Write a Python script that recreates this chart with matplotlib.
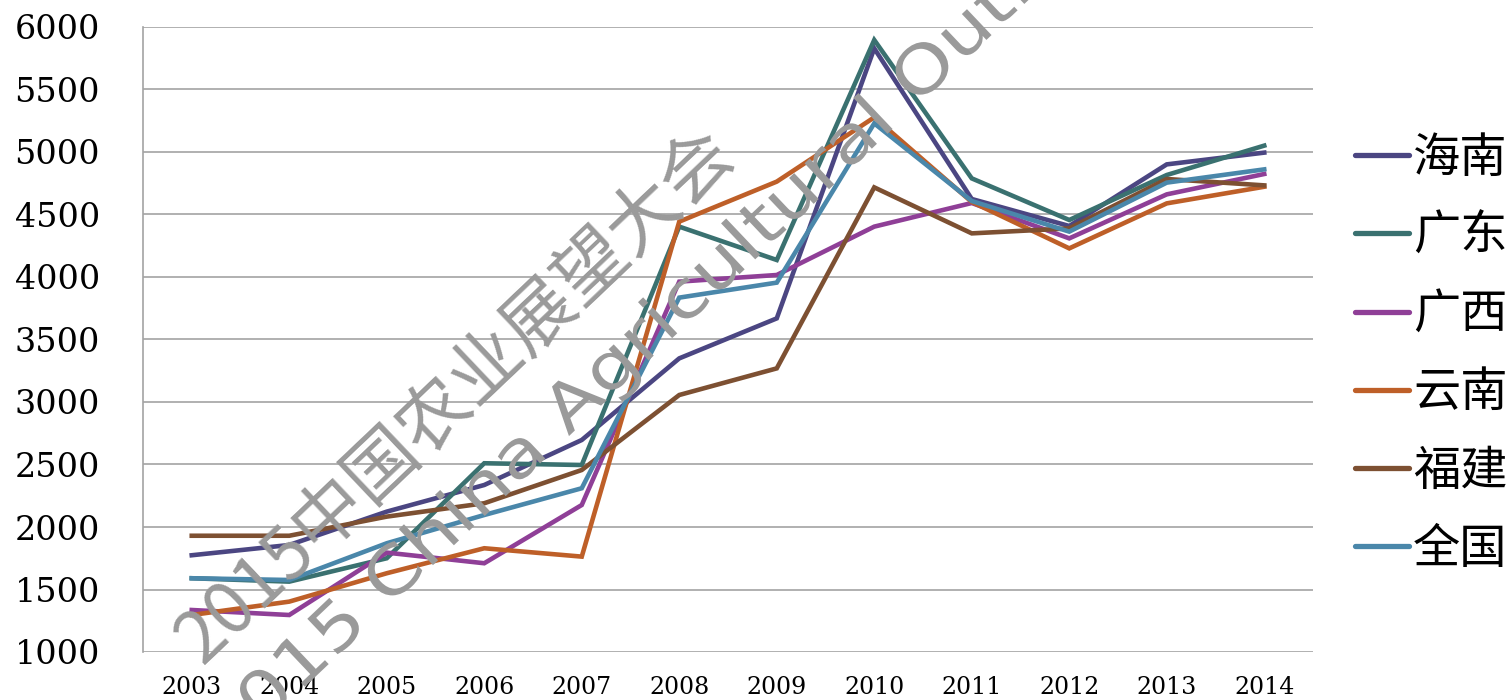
import numpy as np
import matplotlib
matplotlib.use("Agg")
import matplotlib.pyplot as plt
from matplotlib.font_manager import FontProperties
from matplotlib.patheffects import AbstractPathEffect
from matplotlib.transforms import Affine2D

years = ["2003", "2004", "2005", "2006", "2007", "2008", "2009", "2010", "2011", "2012", "2013", "2014"]
series_names = ["海南", "广东", "广西", "云南", "福建", "全国"]
hainan = [1774, 1856, 2123, 2336, 2696, 3349, 3669, 5829, 4624, 4408, 4901, 4995]
guangdong = [1590, 1563, 1750, 2510, 2496, 4403, 4136, 5896, 4789, 4456, 4816, 5051]
guangxi = [1336, 1296, 1795, 1710, 2176, 3963, 4016, 4403, 4592, 4309, 4661, 4824]
yunnan = [1296, 1403, 1630, 1830, 1763, 4443, 4763, 5277, 4600, 4229, 4589, 4722]
fujian = [1930, 1930, 2083, 2190, 2456, 3056, 3269, 4717, 4349, 4389, 4784, 4733]
national = [1590, 1576, 1870, 2096, 2310, 3835, 3955, 5229, 4608, 4363, 4755, 4861]
y_ticks = [1000, 1500, 2000, 2500, 3000, 3500, 4000, 4500, 5000, 5500, 6000]

colors = ["#4b4682", "#3a7170", "#8f3f97", "#be5f28", "#7d5032", "#4a87aa"]
all_series = [hainan, guangdong, guangxi, yunnan, fujian, national]

W, H = 1512, 700
fig = plt.figure(figsize=(W / 100, H / 100), dpi=100)
ax = fig.add_axes([143 / W, 1 - 652 / H, (1313 - 143) / W, (652 - 27) / H])

x = np.arange(len(years))
lines = []
for name, vals, c in zip(series_names, all_series, colors):
    ln, = ax.plot(x, vals, color=c, lw=3.3, solid_joinstyle="miter", zorder=3, label=name)
    lines.append(ln)

ax.set_xlim(-0.5, len(years) - 0.5)
ax.set_ylim(1000, 6000)
ax.set_yticks(y_ticks)
ax.set_yticklabels([str(v) for v in y_ticks], fontfamily="DejaVu Serif", fontsize=24)
ax.set_xticks(x)
ax.set_xticklabels(years, fontfamily="DejaVu Serif", fontsize=17)
ax.tick_params(axis="y", length=0, pad=31)
ax.tick_params(axis="x", length=0, pad=17)
ax.grid(axis="y", color="#a3a3a3", lw=1.2, zorder=1)
ax.set_axisbelow(True)
for s in ["top", "right", "bottom"]:
    ax.spines[s].set_visible(False)
ax.spines["left"].set_color("#a3a3a3")
ax.spines["left"].set_linewidth(1.2)

leg = fig.legend(handles=lines, labels=series_names, loc="center left",
                 bbox_to_anchor=(1355 / W, 1 - 354 / H), frameon=False,
                 prop=FontProperties(family="Noto Sans CJK SC", size=34),
                 handlelength=1.15, handletextpad=0.08, labelspacing=0.63,
                 borderpad=0, borderaxespad=0)
for h in leg.legend_handles:
    h.set_linewidth(3.8)
    h.set_solid_capstyle("round")


# watermark (text stretched along its baseline, like the letter-spaced original)
class Stretch(AbstractPathEffect):
    def __init__(self, sx):
        super().__init__()
        self.sx = sx

    def draw_path(self, renderer, gc, tpath, affine, rgbFace=None):
        renderer.draw_path(gc, tpath, Affine2D().scale(self.sx, 1) + affine, rgbFace)


renderer = fig.canvas.get_renderer()
ang = 43.5
th = np.deg2rad(ang)
along = np.array([np.cos(th), np.sin(th)])  # figure pixel coords, y up


def place(text, prefix, anchor_px, fp, sx):
    w, _, _ = renderer.get_text_width_height_descent(prefix, fp, ismath=False)
    w *= sx
    ax_, ay_ = anchor_px[0], H - anchor_px[1]
    sx0 = ax_ - w * along[0]
    sy0 = ay_ - w * along[1]
    t = fig.text(sx0 / W, sy0 / H, text, fontproperties=fp, color="#9a9a9a",
                 rotation=ang, rotation_mode="anchor", ha="left", va="baseline",
                 zorder=2)
    if sx != 1:
        t.set_path_effects([Stretch(sx)])


fp1 = FontProperties(family="Noto Sans CJK SC", size=52)
fp2 = FontProperties(family="DejaVu Sans", size=47)
place("2015中国农业展望大会", "2015", (318, 555), fp1, 1.0)
place("2015 China Agricultural Outlook", "2015 China ", (568, 437), fp2, 1.2)

fig.savefig("out.png", dpi=100)
